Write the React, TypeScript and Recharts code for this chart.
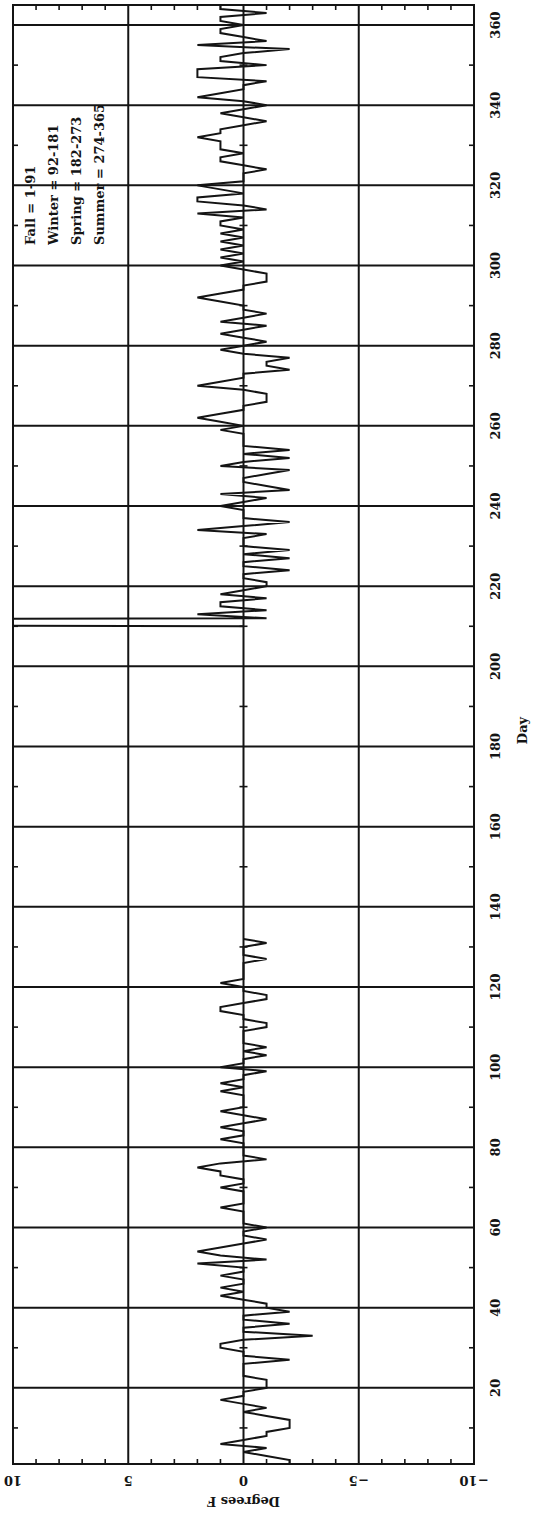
import React from 'react';
import { LineChart, Line, XAxis, YAxis, ReferenceLine, ReferenceArea, Label } from 'recharts';

// Days 1..132 (first observed block)
const partOneStart = 1;
const partOneValues = [
  -2, -2, -1, 0, -1, 1, 0, -1, -1, -2,
  -2, -2, -1, 0, -1, 0, 1, 0, 0, -1,
  -1, -1, 0, 0, 0, 0, -2, 0, 0, 1,
  1, 0, -3, 0, 0, -2, 0, 0, -2, -1,
  -1, 0, 1, 0, 1, 0, 0, 1, 0, 0,
  2, -1, 1, 2, 1, 0, -1, 0, 0, -1,
  0, 0, 0, 0, 1, 0, 0, 0, 0, 1,
  0, 0, 1, 1, 2, 1, -1, 0, 0, 0,
  0, 1, 0, 0, 1, 0, -1, 0, 1, 0,
  0, 0, 0, 1, 0, 1, 0, 0, -1, 1,
  0, 0, -1, 0, -1, 0, 0, 0, 0, -1,
  -1, 0, 0, 1, 1, 0, -1, -1, 0, 0,
  1, 0, 0, 0, 0, 0, -1, 0, 0, 0,
  -1, 0,
];

// Days 210..365 (second observed block; day 211 is off scale)
const partTwoStart = 210;
const partTwoValues = [
  0, 99, -1, 2, -1, 1, 1, -1, 1, 0,
  -1, -1, 0, 0, -2, 0, 0, -2, 0, -2,
  0, 0, 0, -1, 2, 0, -2, 0, 0, 0,
  1, 0, -1, 1, -2, -1, 0, 0, -1, -2,
  1, 0, -2, 0, -2, 0, 0, 0, 0, 1,
  0, 1, 2, 1, 0, 0, -1, -1, -1, 0,
  2, 1, 0, 0, -2, -1, -1, -2, 0, 1,
  0, -1, 0, 1, 0, -1, 1, 0, -1, 0,
  0, 1, 2, 1, 0, 0, -1, -1, -1, 0,
  1, 0, 1, 0, 1, 0, 1, 0, 1, 0,
  1, 1, 0, 2, -1, 0, 2, 2, 0, 1,
  2, 0, 0, 0, -1, 0, 1, 1, 0, 1,
  1, 1, 2, 1, 1, 0, -1, 0, 1, 0,
  -1, 0, 2, 1, 0, 0, -1, 2, 2, 2,
  -1, 1, 1, 0, -2, 2, -1, 0, 1, 1,
  0, 1, 1, -1, 1, 1,
];

const gapDay = 170;

const dayTicks = [20, 40, 60, 80, 100, 120, 140, 160, 180, 200, 220, 240, 260, 280, 300, 320, 340, 360];
const minorDayTicks = [10, 30, 50, 70, 90, 110, 130, 150, 170, 190, 210, 230, 250, 270, 290, 310, 330, 350];
const degreeTicks = [-10, -5, 0, 5, 10];
const degreeGrid = [-5, 0, 5];
const minorDegreeTicks = [-9, -8, -7, -6, -4, -3, -2, -1, 1, 2, 3, 4, 6, 7, 8, 9];

const legendLines = ['Fall = 1-91', 'Winter = 92-181', 'Spring = 182-273', 'Summer = 274-365'];

const data = [
  ...partOneValues.map((v, i) => ({ day: partOneStart + i, value: v })),
  { day: gapDay, value: null },
  ...partTwoValues.map((v, i) => ({ day: partTwoStart + i, value: v })),
];

const INK = '#141414';
const FONT = 'DejaVu Serif';

const fmtDeg = (v: number) => (v < 0 ? `\u2212${-v}` : `${v}`);

const DayTick = (props: any) => {
  const { x, y, payload } = props;
  return (
    <text x={x} y={y + 26} textAnchor="middle" fontFamily={FONT} fontWeight="bold" fontSize={13} fill={INK}>
      {payload.value}
    </text>
  );
};

const DegreeTick = (props: any) => {
  const { x, y, payload } = props;
  const bx = x - 12;
  return (
    <text
      x={bx}
      y={y}
      transform={`rotate(-90, ${bx}, ${y})`}
      textAnchor="middle"
      fontFamily={FONT}
      fontWeight="bold"
      fontSize={13}
      fill={INK}
    >
      {fmtDeg(payload.value)}
    </text>
  );
};

const DayLabel = (props: any) => {
  const vb = props.viewBox || { x: 52, y: 474, width: 1459, height: 61 };
  return (
    <text x={vb.x + vb.width / 2 + 4} y={vb.y + 53} textAnchor="middle" fontFamily={FONT} fontWeight="bold" fontSize={13} fill={INK}>
      Day
    </text>
  );
};

const DegreesLabel = (props: any) => {
  const vb = props.viewBox || { x: 0, y: 13, width: 52, height: 461 };
  const cx = vb.x + 19;
  const cy = vb.y + vb.height / 2;
  return (
    <text x={cx} y={cy} transform={`rotate(-90, ${cx}, ${cy})`} textAnchor="middle" fontFamily={FONT} fontWeight="bold" fontSize={13} fill={INK}>
      Degrees F
    </text>
  );
};

// Minor day ticks: short inward marks on both plot edges and across the zero line
const DayTickShape = (props: any) => {
  const { x1, y1, y2 } = props;
  const top = Math.min(y1, y2);
  const bottom = Math.max(y1, y2);
  const mid = (top + bottom) / 2;
  return (
    <g stroke={INK} strokeWidth={1.6}>
      <line x1={x1} x2={x1} y1={top} y2={top + 5} />
      <line x1={x1} x2={x1} y1={bottom - 5} y2={bottom} />
      <line x1={x1} x2={x1} y1={mid - 4} y2={mid + 4} />
    </g>
  );
};

// Minor degree ticks: short inward marks on left and right plot edges
const DegreeTickShape = (props: any) => {
  const { x1, x2, y1 } = props;
  const left = Math.min(x1, x2);
  const right = Math.max(x1, x2);
  return (
    <g stroke={INK} strokeWidth={1.6}>
      <line x1={left} x2={left + 5} y1={y1} y2={y1} />
      <line x1={right - 5} x2={right} y1={y1} y2={y1} />
    </g>
  );
};

const W = 1516;
const H = 535;

export default function App() {
  return (
    <div style={{ position: 'absolute', left: 0, top: 0, width: H, height: W, overflow: 'hidden', background: '#fff' }}>
      <div
        style={{
          position: 'absolute',
          left: 0,
          top: 0,
          width: W,
          height: H,
          transformOrigin: '0 0',
          transform: `translateY(${W}px) rotate(-90deg)`,
        }}
      >
        <LineChart width={W} height={H} data={data} margin={{ top: 13, right: 5, bottom: 0, left: 0 }}>
          <XAxis
            type="number"
            dataKey="day"
            domain={[1, 365]}
            ticks={dayTicks}
            interval={0}
            allowDataOverflow
            axisLine={false}
            tickLine={false}
            tickSize={0}
            tickMargin={0}
            height={61}
            tick={DayTick}
          >
            <Label content={DayLabel} />
          </XAxis>
          <YAxis
            type="number"
            domain={[-10, 10]}
            ticks={degreeTicks}
            interval={0}
            allowDataOverflow
            axisLine={false}
            tickLine={false}
            tickSize={0}
            tickMargin={0}
            width={52}
            tick={DegreeTick}
          >
            <Label content={DegreesLabel} />
          </YAxis>
          {dayTicks.map((d) => (
            <ReferenceLine key={`dg${d}`} x={d} stroke={INK} strokeWidth={2} />
          ))}
          {degreeGrid.map((v) => (
            <ReferenceLine key={`vg${v}`} y={v} stroke={INK} strokeWidth={2} />
          ))}
          {minorDayTicks.map((d) => (
            <ReferenceLine key={`md${d}`} x={d} stroke={INK} shape={DayTickShape} />
          ))}
          {minorDegreeTicks.map((v) => (
            <ReferenceLine key={`mv${v}`} y={v} stroke={INK} shape={DegreeTickShape} />
          ))}
          <ReferenceArea x1={1} x2={365} y1={-10} y2={10} fill="none" fillOpacity={0} stroke={INK} strokeWidth={2} />
          <Line
            type="linear"
            dataKey="value"
            stroke={INK}
            strokeWidth={2}
            dot={false}
            activeDot={false}
            connectNulls={false}
            isAnimationActive={false}
          />
        </LineChart>
        <svg width={W} height={H} style={{ position: 'absolute', left: 0, top: 0, pointerEvents: 'none' }}>
          {legendLines.map((t, i) => (
            <text key={t} x={1271} y={35 + i * 23} fontFamily={FONT} fontWeight="bold" fontSize={13} fill={INK}>
              {t}
            </text>
          ))}
        </svg>
      </div>
    </div>
  );
}
